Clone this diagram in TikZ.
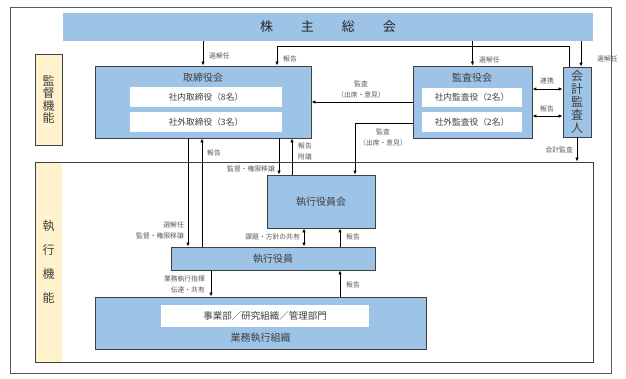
\documentclass[tikz,border=0pt]{standalone}
\usepackage{fontspec}
\setmainfont{Noto Sans CJK JP}
\usetikzlibrary{arrows.meta}
\definecolor{boxblue}{HTML}{9DC3E6}
\definecolor{labelyellow}{HTML}{FFF2CC}
\definecolor{edgegray}{HTML}{404040}
\definecolor{textgray}{HTML}{404040}
\definecolor{notegray}{HTML}{595959}
\tikzset{
  bluebox/.style={draw=edgegray, fill=boxblue, line width=0.9pt, inner sep=0pt},
  whitebox/.style={fill=white, inner sep=0pt, text=textgray, font=\fontsize{8.7}{10}\selectfont},
  title/.style={text=textgray, inner sep=0pt, font=\fontsize{10}{12}\selectfont},
  vtext/.style={text=textgray, inner sep=0pt, align=center},
  note/.style={text=notegray, inner sep=0pt, align=center, font=\fontsize{6.8}{11}\selectfont},
  arr/.style={line width=0.8pt, -{Latex[length=4pt,width=3.5pt]}},
  dblarr/.style={line width=0.8pt, {Latex[length=4pt,width=3.5pt]}-{Latex[length=4pt,width=3.5pt]}},
}
\begin{document}
\begin{tikzpicture}[x=1pt, y=-1pt]
  \useasboundingbox (0,0) rectangle (626,379);
  \fill[white] (0,0) rectangle (626,379);
  \draw[notegray, line width=0.9pt] (10,7) rectangle (611,373);
  % shareholders
  \node[bluebox, draw=none, minimum width=530pt, minimum height=28pt, text=black!85,
        font=\fontsize{13}{13}\selectfont] (gsm) at (328,27) {株\hspace{28pt}主\hspace{28pt}総\hspace{28pt}会};
  % supervision side
  \node[vtext, draw=edgegray, fill=labelyellow, line width=0.9pt, minimum width=27pt, minimum height=91pt,
        font=\fontsize{12}{12.5}\selectfont] (supvlabel) at (48.5,99.5) {監\\督\\機\\能};
  \node[bluebox, minimum width=216pt, minimum height=72pt] (board) at (203,102) {};
  \node[title] (boardtitle) at (203,78) {取締役会};
  \node[whitebox, minimum width=152pt, minimum height=20pt] (boardin) at (206,97) {社内取締役（8名）};
  \node[whitebox, minimum width=152pt, minimum height=20pt] (boardout) at (206,122) {社外取締役（3名）};
  \node[bluebox, minimum width=119pt, minimum height=72pt] (kansa) at (472.5,102) {};
  \node[title] (kansatitle) at (472,78) {監査役会};
  \node[whitebox, minimum width=100pt, minimum height=19pt] (kansain) at (472,97.5) {社内監査役（2名）};
  \node[whitebox, minimum width=100pt, minimum height=20pt] (kansaout) at (472,122) {社外監査役（2名）};
  \node[bluebox, vtext, minimum width=28pt, minimum height=70pt,
        font=\fontsize{12}{13}\selectfont] (auditor) at (577,102) {会\\計\\監\\査\\人};
  % execution side
  \fill[labelyellow] (35,162) rectangle (62,362);
  \node[draw=edgegray, line width=0.9pt, minimum width=558pt, minimum height=200pt, inner sep=0pt] (execarea) at (314,262) {};
  \node[vtext, font=\fontsize{12}{24}\selectfont] (execlabel) at (48.5,262) {執\\行\\機\\能};
  \node[bluebox, title, minimum width=108pt, minimum height=53pt] (execcom) at (321,201.5) {執行役員会};
  \node[bluebox, title, minimum width=204pt, minimum height=23pt] (officers) at (273,258.5) {執行役員};
  \node[bluebox, minimum width=331pt, minimum height=52pt] (bizorg) at (260.5,323) {};
  \node[whitebox, minimum width=208pt, minimum height=22pt, font=\fontsize{9.5}{10}\selectfont] (bizunits) at (265,316) {事業部／研究組織／管理部門};
  \node[title] (biztitle) at (260.5,338) {業務執行組織};
  % connectors
  \coordinate (auditorin) at ([xshift=4pt]auditor.north);
  \coordinate (auditorout) at ([xshift=-8pt]auditor.north);
  \draw[arr] (gsm.south -| board.north) -- (board.north);
  \draw[arr] (gsm.south -| kansa.north) -- (kansa.north);
  \draw[arr] (auditorin |- gsm.south) -- (auditorin);
  \draw[arr] (auditorout) -- ++(0,-20) -| ([xshift=74pt]board.north);
  \draw[arr] (kansa.west) -- (kansa.west -| board.east);
  \draw[arr] ([yshift=-21pt]kansa.west) -| ([xshift=34pt]execcom.north);
  \draw[dblarr] ([yshift=13pt]kansa.east) -- ([yshift=13pt]auditor.west);
  \draw[dblarr] ([yshift=-14pt]kansa.east) -- ([yshift=-14pt]auditor.west);
  \draw[arr] (auditor.south) -- (auditor.south |- execarea.north);
  \coordinate (boarddown) at ([xshift=-15pt]board.south);
  \coordinate (boardup) at ([xshift=-1pt]board.south);
  \draw[arr] (boarddown) -- (boarddown |- officers.north);
  \draw[arr] (boardup |- officers.north) -- (boardup);
  \coordinate (comdown) at ([xshift=76pt]board.south);
  \coordinate (comup) at ([xshift=89pt]board.south);
  \draw[arr] (comdown) -- (comdown |- execcom.north);
  \draw[arr] (comup |- execcom.north) -- (comup);
  \coordinate (share) at ([xshift=-17pt]execcom.south);
  \coordinate (comreport) at ([xshift=19pt]execcom.south);
  \draw[dblarr] (share) -- (share |- officers.north);
  \draw[arr] (comreport |- officers.north) -- (comreport);
  \coordinate (command) at ([xshift=-62pt]officers.south);
  \coordinate (bizreport) at ([xshift=67pt]officers.south);
  \draw[arr] (command) -- (command |- bizorg.north);
  \draw[arr] (bizreport |- bizorg.north) -- (bizreport);
  % labels
  \node[note, anchor=west] (elect1) at (209,56) {選解任};
  \node[note, anchor=west] (report1) at (283,59) {報告};
  \node[note, anchor=west] (elect2) at (479,60) {選解任};
  \node[note, anchor=west] (elect3) at (597,59) {選解任};
  \node[note] (audit1) at (361,89) {監査\\（出席・意見）};
  \node[note] (audit2) at (383,137.5) {監査\\（出席・意見）};
  \node[note] (link) at (547,81) {連携};
  \node[note] (report2) at (547,108.5) {報告};
  \node[note, anchor=east] (account) at (573,150) {会計監査};
  \node[note, anchor=west] (report3) at (207,153) {報告};
  \node[note, anchor=west, align=left] (report4) at (298,151.5) {報告\\附議};
  \node[note, anchor=east] (delegate1) at (275,169) {監督・権限移譲};
  \node[note, anchor=east, align=right] (delegate2) at (184,230.5) {選解任\\監督・権限移譲};
  \node[note, anchor=east] (sharing) at (300,237) {課題・方針の共有};
  \node[note, anchor=west] (report5) at (346,237) {報告};
  \node[note, anchor=east, align=right] (direct) at (205,284.5) {業務執行指揮\\伝達・共有};
  \node[note, anchor=west] (report6) at (346,285) {報告};
\end{tikzpicture}
\end{document}
